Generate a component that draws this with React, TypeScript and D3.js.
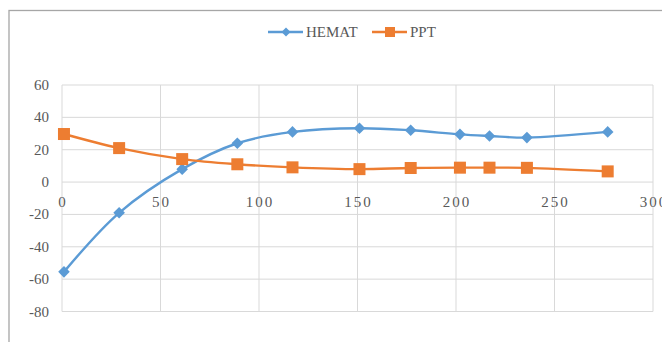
import React from "react";
import * as d3 from "d3";

const xValues = [1, 29, 61, 89, 117, 151, 177, 202, 217, 236, 277];
const hematValues = [-55.5, -19, 8, 24, 31, 33.3, 32, 29.5, 28.5, 27.5, 31];
const pptValues = [29.7, 21, 14.2, 11, 9.1, 8, 8.7, 8.9, 8.9, 8.8, 6.6];
const xTicks = [0, 50, 100, 150, 200, 250, 300];
const yTicks = [60, 40, 20, 0, -20, -40, -60, -80];
const seriesNames = ["HEMAT", "PPT"];

const W = 662;
const H = 342;
const BLUE = "#5B9BD5";
const ORANGE = "#ED7D31";
const TEXT = "#595959";
const FONT = "Liberation Serif, Times New Roman, DejaVu Serif, serif";

export default function App() {
  const x = d3.scaleLinear().domain([0, 300]).range([62, 653]);
  const y = d3.scaleLinear().domain([-80, 60]).range([311.5, 85]);

  const line = d3
    .line<[number, number]>()
    .x((d) => x(d[0]))
    .y((d) => y(d[1]))
    .curve(d3.curveCatmullRom.alpha(0.5));

  const hemat: [number, number][] = xValues.map((v, i) => [v, hematValues[i]]);
  const ppt: [number, number][] = xValues.map((v, i) => [v, pptValues[i]]);

  const diamond = (cx: number, cy: number, r: number) =>
    `M${cx},${cy - r}L${cx + r},${cy}L${cx},${cy + r}L${cx - r},${cy}Z`;

  return (
    <svg
      width={W}
      height={H}
      style={{ position: "absolute", left: 0, top: 0, background: "#fff", fontFamily: FONT }}
    >
      <rect x={0} y={0} width={W} height={H} fill="#fff" />
      <rect x={9} y={10.5} width={700} height={400} fill="#fff" stroke="#a6a6a6" strokeWidth={1.3} />

      {yTicks.map((t) => (
        <line key={"gy" + t} x1={x(0)} x2={x(300)} y1={y(t)} y2={y(t)} stroke="#d9d9d9" strokeWidth={1} />
      ))}
      {xTicks.map((t) => (
        <line key={"gx" + t} x1={x(t)} x2={x(t)} y1={y(60)} y2={y(-80)} stroke="#d9d9d9" strokeWidth={1} />
      ))}

      {yTicks.map((t) => (
        <text key={"ly" + t} x={49} y={y(t) + 5} textAnchor="end" style={{ fontFamily: FONT }} fontSize={15} fill={TEXT}>
          {t}
        </text>
      ))}
      {xTicks.map((t) => (
        <text
          key={"lx" + t}
          x={x(t) + 1}
          y={207}
          textAnchor="middle"
          style={{ fontFamily: FONT }}
          fontSize={15}
          letterSpacing={2}
          fill={TEXT}
        >
          {t}
        </text>
      ))}

      <path d={line(hemat) || ""} fill="none" stroke={BLUE} strokeWidth={2.4} />
      <path d={line(ppt) || ""} fill="none" stroke={ORANGE} strokeWidth={2.4} />

      {hemat.map((d, i) => (
        <path key={"hm" + i} d={diamond(x(d[0]), y(d[1]), 5.8)} fill={BLUE} />
      ))}
      {ppt.map((d, i) => (
        <rect key={"pm" + i} x={x(d[0]) - 6} y={y(d[1]) - 6} width={12} height={12} fill={ORANGE} />
      ))}

      <line x1={268} x2={303} y1={32} y2={32} stroke={BLUE} strokeWidth={2.4} />
      <path d={diamond(286, 32, 4.5)} fill={BLUE} />
      <text x={306} y={37} style={{ fontFamily: FONT }} fontSize={15} fill={TEXT}>
        {seriesNames[0]}
      </text>
      <line x1={372} x2={407} y1={32} y2={32} stroke={ORANGE} strokeWidth={2.4} />
      <rect x={385} y={27} width={10} height={10} fill={ORANGE} />
      <text x={410} y={37} style={{ fontFamily: FONT }} fontSize={15} fill={TEXT}>
        {seriesNames[1]}
      </text>
    </svg>
  );
}
